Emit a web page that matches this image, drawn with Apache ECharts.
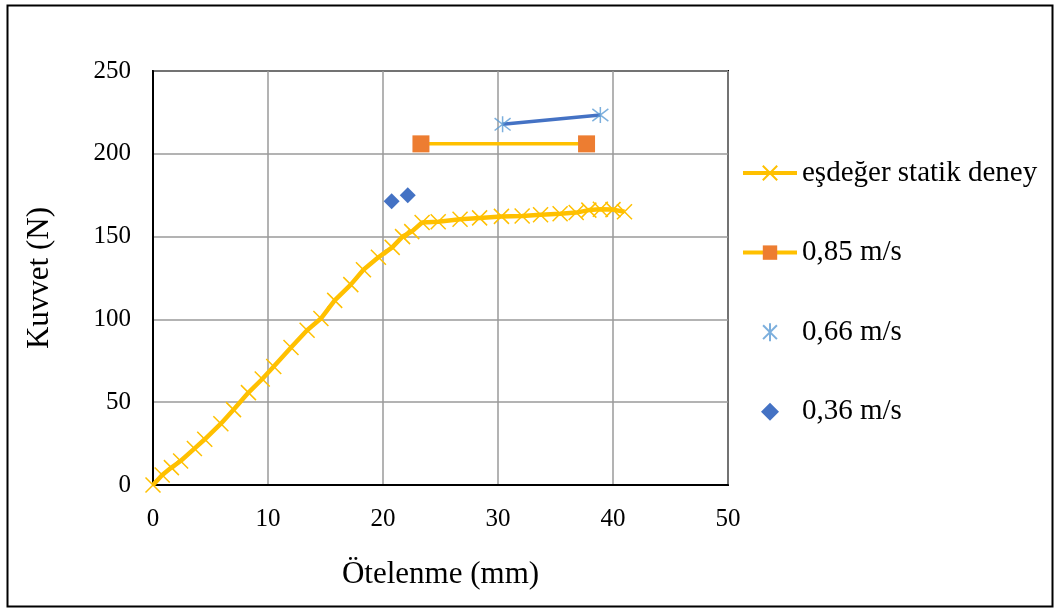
<!DOCTYPE html>
<html>
<head>
<meta charset="utf-8">
<script src="https://cdn.jsdelivr.net/npm/echarts@6/dist/echarts.min.js"></script>
<style>
html,body{margin:0;padding:0;background:#fff;}
#chart{width:1056px;height:608px;}
</style>
</head>
<body>
<div id="chart"></div>
<script>
// ---- data ----
const seriesNames = ['eşdeğer statik deney', '0,85 m/s', '0,66 m/s', '0,36 m/s'];
const staticX = [0, 0.8, 1.6, 2.4, 3.6, 4.5, 5.9, 7.0, 8.3, 9.5, 10.5, 12.0, 13.4, 14.6, 15.8, 17.2, 18.3, 19.6, 20.8, 21.7, 22.5, 23.4, 24.8, 26.7, 28.4, 30.3, 32.1, 33.7, 35.4, 36.8, 37.9, 38.9, 40.0, 41.0];
const staticY = [0, 6, 10.5, 14.5, 22, 27.6, 37, 45.5, 55.8, 64, 71.6, 83, 93.5, 100.5, 111.5, 121, 130, 137.5, 143.5, 150, 153, 158.5, 159, 160.5, 161.3, 162.2, 162.4, 163.2, 163.8, 164.5, 166, 166.5, 166.3, 165];
const v085X = [23.3, 37.7];
const v085Y = [206, 206];
const v066X = [30.4, 38.9];
const v066Y = [217.8, 223.4];
const v036X = [20.75, 22.15];
const v036Y = [171.4, 175];
const xTicks = [0, 10, 20, 30, 40, 50];
const yTicks = [0, 50, 100, 150, 200, 250];

const zip = (xs, ys) => xs.map((x, i) => [x, ys[i]]);
const FONT = 'Liberation Serif';
const crossPath = 'path://M0,0L10,10M10,0L0,10';
const starPath = 'path://M0,0L10,10M10,0L0,10M5,-1.5L5,11.5';
const diamondPath = 'path://M5,0L10,5L5,10L0,5Z';

const chart = echarts.init(document.getElementById('chart'), null, {renderer: 'canvas'});
chart.setOption({
  animation: false,
  backgroundColor: '#fff',
  graphic: [{
    type: 'rect', left: 5, top: 3, shape: {width: 1045, height: 601},
    style: {fill: 'none', stroke: '#000', lineWidth: 2}, silent: true, z: -1
  }],
  grid: {left: 153, top: 71, right: 328, bottom: 123, show: true, borderColor: '#000', borderWidth: 2, backgroundColor: 'transparent'},
  xAxis: {
    type: 'value', min: xTicks[0], max: xTicks[xTicks.length - 1], interval: xTicks[1] - xTicks[0],
    name: 'Ötelenme (mm)', nameLocation: 'middle', nameGap: 74,
    nameTextStyle: {fontFamily: FONT, fontSize: 31, color: '#000'},
    axisLine: {show: true, lineStyle: {color: '#000', width: 2}},
    axisTick: {show: false},
    axisLabel: {fontFamily: FONT, fontSize: 25, color: '#000', margin: 22},
    splitLine: {show: true, lineStyle: {color: '#9A9A9A', width: 1.5}}
  },
  yAxis: {
    type: 'value', min: yTicks[0], max: yTicks[yTicks.length - 1], interval: yTicks[1] - yTicks[0],
    name: 'Kuvvet (N)', nameLocation: 'middle', nameGap: 98, nameRotate: 90,
    nameTextStyle: {fontFamily: FONT, fontSize: 31, color: '#000'},
    axisLine: {show: true, lineStyle: {color: '#000', width: 2}},
    axisTick: {show: false},
    axisLabel: {fontFamily: FONT, fontSize: 25, color: '#000', margin: 22},
    splitLine: {show: true, lineStyle: {color: '#9A9A9A', width: 1.5}}
  },
  legend: {
    orient: 'vertical', left: 736, top: 153,
    itemWidth: 54, itemHeight: 18, itemGap: 49.6,
    symbolKeepAspect: true,
    data: [
      {name: seriesNames[0], lineStyle: {width: 4}},
      {name: seriesNames[1], lineStyle: {width: 4}},
      {name: seriesNames[2]},
      {name: seriesNames[3]}
    ],
    textStyle: {fontFamily: FONT, fontSize: 29, color: '#000', lineHeight: 30},
    selectedMode: false
  },
  series: [
    {
      name: seriesNames[0], type: 'line', data: zip(staticX, staticY),
      symbol: crossPath, symbolSize: 15,
      lineStyle: {color: '#FFC000', width: 4.5},
      itemStyle: {color: '#FFC000', borderColor: '#FFC000', borderWidth: 1.5},
      z: 3
    },
    {
      name: seriesNames[1], type: 'line', data: zip(v085X, v085Y),
      symbol: 'rect', symbolSize: 17,
      lineStyle: {color: '#FFC000', width: 3.5},
      itemStyle: {color: '#ED7D31', borderWidth: 0},
      z: 3
    },
    {
      name: '_066line', type: 'line', data: zip(v066X, v066Y),
      symbol: 'none',
      lineStyle: {color: '#4472C4', width: 3.5},
      z: 2
    },
    {
      name: seriesNames[2], type: 'scatter', data: zip(v066X, v066Y),
      symbol: starPath, symbolSize: 16,
      itemStyle: {color: '#5B9BD5', borderColor: '#5B9BD5', borderWidth: 1.5},
      z: 4
    },
    {
      name: seriesNames[3], type: 'scatter', data: zip(v036X, v036Y),
      symbol: diamondPath, symbolSize: 16,
      itemStyle: {color: '#4472C4', opacity: 1},
      z: 4
    }
  ]
});
</script>
</body>
</html>
